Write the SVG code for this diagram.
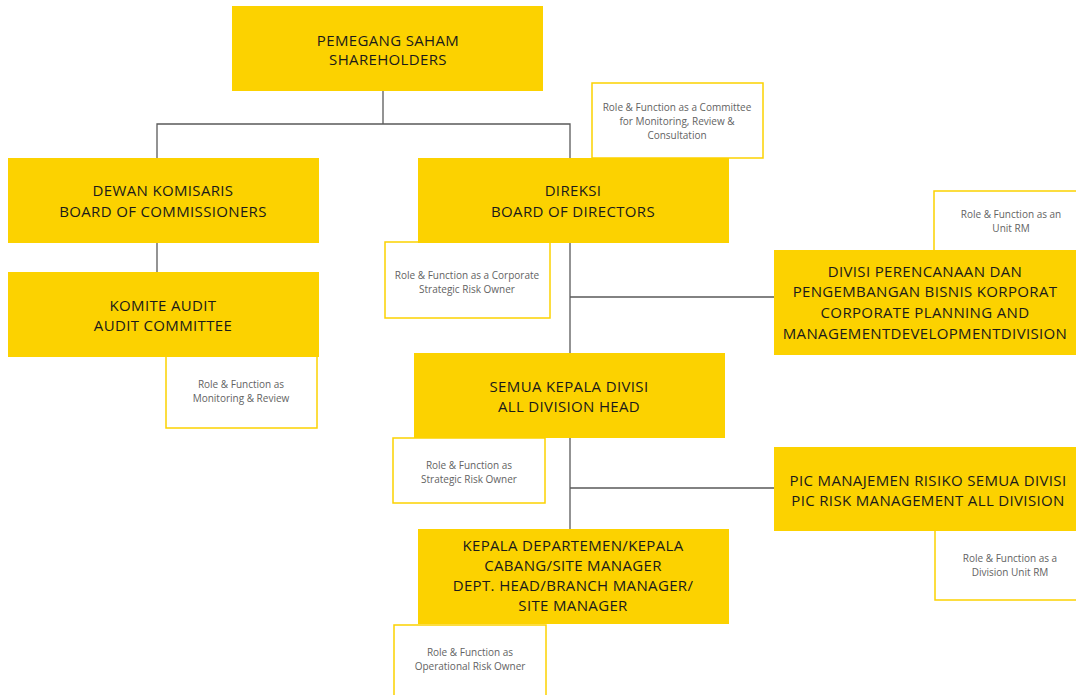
<svg xmlns="http://www.w3.org/2000/svg" width="1076" height="695" viewBox="0 0 1076 695">
  <style>
    .node { fill: #FCD200; }
    .note { fill: #FFFFFF; stroke: #FCD200; stroke-width: 1.5; }
    .t { font-family: "Open Sans", "Liberation Sans", sans-serif; font-size: 15px; fill: #1A1A1A; text-anchor: middle; letter-spacing: 0.35px; }
    .s { font-family: "Open Sans", "Liberation Sans", sans-serif; font-size: 10px; fill: #636363; text-anchor: middle; }
    .link { fill: none; stroke: #5A5A5A; stroke-width: 1.3; }
  </style>
  <rect width="1076" height="695" fill="#FFFFFF"/>

  <!-- connectors -->
  <g id="connectors">
    <path class="link" d="M383 91 V124 M157 158 V124 H570 V158"/>
    <path class="link" d="M157 243 V272"/>
    <path class="link" d="M570 243 V353 M570 297 H774"/>
    <path class="link" d="M570 438 V529 M570 488 H774"/>
  </g>

  <!-- role notes -->
  <g id="note-committee">
    <rect class="note" x="592" y="83" width="171" height="75"/>
    <text class="s" x="677" y="111">Role &amp; Function as a Committee</text>
    <text class="s" x="677" y="125">for Monitoring, Review &amp;</text>
    <text class="s" x="677" y="139">Consultation</text>
  </g>
  <g id="note-corporate">
    <rect class="note" x="385" y="242" width="165" height="76"/>
    <text class="s" x="467" y="279">Role &amp; Function as a Corporate</text>
    <text class="s" x="467" y="293">Strategic Risk Owner</text>
  </g>
  <g id="note-monitoring">
    <rect class="note" x="166" y="350" width="151" height="78"/>
    <text class="s" x="241" y="388">Role &amp; Function as</text>
    <text class="s" x="241" y="402">Monitoring &amp; Review</text>
  </g>
  <g id="note-unit">
    <rect class="note" x="934" y="191" width="150" height="65"/>
    <text class="s" x="1011" y="218">Role &amp; Function as an</text>
    <text class="s" x="1011" y="232">Unit RM</text>
  </g>
  <g id="note-strategic">
    <rect class="note" x="393" y="438" width="152" height="65"/>
    <text class="s" x="469" y="469">Role &amp; Function as</text>
    <text class="s" x="469" y="483">Strategic Risk Owner</text>
  </g>
  <g id="note-division">
    <rect class="note" x="935" y="525" width="150" height="75"/>
    <text class="s" x="1010" y="562">Role &amp; Function as a</text>
    <text class="s" x="1010" y="576">Division Unit RM</text>
  </g>
  <g id="note-operational">
    <rect class="note" x="394" y="625" width="152" height="80"/>
    <text class="s" x="470" y="656">Role &amp; Function as</text>
    <text class="s" x="470" y="670">Operational Risk Owner</text>
  </g>

  <!-- organisation units -->
  <g id="shareholders">
    <rect class="node" x="232" y="6" width="311" height="85"/>
    <text class="t" x="388" y="46">PEMEGANG SAHAM</text>
    <text class="t" x="388" y="65">SHAREHOLDERS</text>
  </g>
  <g id="commissioners">
    <rect class="node" x="8" y="158" width="311" height="85"/>
    <text class="t" x="163" y="196">DEWAN KOMISARIS</text>
    <text class="t" x="163" y="217">BOARD OF COMMISSIONERS</text>
  </g>
  <g id="audit-committee">
    <rect class="node" x="8" y="272" width="311" height="85"/>
    <text class="t" x="163" y="311">KOMITE AUDIT</text>
    <text class="t" x="163" y="331">AUDIT COMMITTEE</text>
  </g>
  <g id="directors">
    <rect class="node" x="418" y="158" width="311" height="85"/>
    <text class="t" x="573" y="196">DIREKSI</text>
    <text class="t" x="573" y="217">BOARD OF DIRECTORS</text>
  </g>
  <g id="corporate-planning">
    <rect class="node" x="774" y="250" width="302" height="105"/>
    <text class="t" x="925" y="277">DIVISI PERENCANAAN DAN</text>
    <text class="t" x="925" y="297">PENGEMBANGAN BISNIS KORPORAT</text>
    <text class="t" x="925" y="318">CORPORATE PLANNING AND</text>
    <text class="t" x="925" y="339">MANAGEMENTDEVELOPMENTDIVISION</text>
  </g>
  <g id="division-heads">
    <rect class="node" x="414" y="353" width="311" height="85"/>
    <text class="t" x="569" y="392">SEMUA KEPALA DIVISI</text>
    <text class="t" x="569" y="412">ALL DIVISION HEAD</text>
  </g>
  <g id="pic-risk">
    <rect class="node" x="774" y="447" width="302" height="84"/>
    <text class="t" x="928" y="486">PIC MANAJEMEN RISIKO SEMUA DIVISI</text>
    <text class="t" x="928" y="506">PIC RISK MANAGEMENT ALL DIVISION</text>
  </g>
  <g id="department-heads">
    <rect class="node" x="418" y="529" width="311" height="95"/>
    <text class="t" x="573" y="551">KEPALA DEPARTEMEN/KEPALA</text>
    <text class="t" x="573" y="571">CABANG/SITE MANAGER</text>
    <text class="t" x="573" y="591">DEPT. HEAD/BRANCH MANAGER/</text>
    <text class="t" x="573" y="611">SITE MANAGER</text>
  </g>
</svg>
